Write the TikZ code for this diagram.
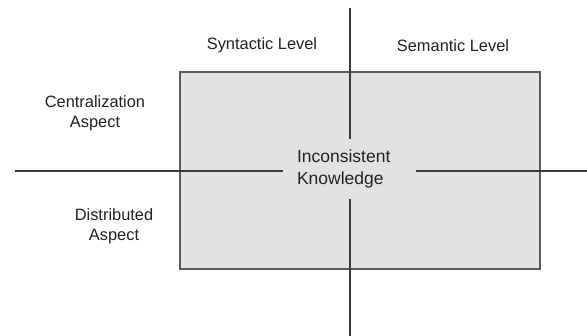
\documentclass[tikz,border=0pt]{standalone}
\usepackage{fontspec}
\setmainfont{Liberation Sans}
\definecolor{linec}{HTML}{3A3A3A}
\definecolor{boxfill}{HTML}{E2E2E2}
\definecolor{boxline}{HTML}{5A5A5A}
\definecolor{txt}{HTML}{222222}
\begin{document}
\begin{tikzpicture}[x=1pt,y=-1pt,
  lbl/.style={text=txt,font=\fontsize{16.4}{20}\selectfont,align=center,inner sep=0pt},
  axis/.style={draw=linec,line width=1.1pt},
  panel/.style={draw=boxline,fill=boxfill,line width=1.3pt}]
\useasboundingbox (0,0) rectangle (587,336);
\node[panel,minimum width=360pt,minimum height=197pt,inner sep=0pt] (box) at (360,170.5) {};
\node[text=txt,font=\fontsize{17.5}{22}\selectfont,align=left,text width=105pt,inner xsep=14pt,inner ysep=0pt,minimum width=133pt,minimum height=60pt] (k) at (349.5,169) {Inconsistent\\Knowledge};
\coordinate (top) at (350,8);
\coordinate (bot) at (350,336);
\coordinate (lft) at (15,171);
\coordinate (rgt) at (587,171);
\draw[axis] (top) -- (top |- k.north);
\draw[axis] (bot) -- (bot |- k.south);
\draw[axis] (lft) -- (lft -| k.west);
\draw[axis] (rgt) -- (rgt -| k.east);
\node[lbl] (syn) at (262,45) {Syntactic Level};
\node[lbl] (sem) at (453,46) {Semantic Level};
\node[lbl] (cen) at (95,113) {Centralization\\Aspect};
\node[lbl] (dis) at (114,226) {Distributed\\Aspect};
\end{tikzpicture}
\end{document}
